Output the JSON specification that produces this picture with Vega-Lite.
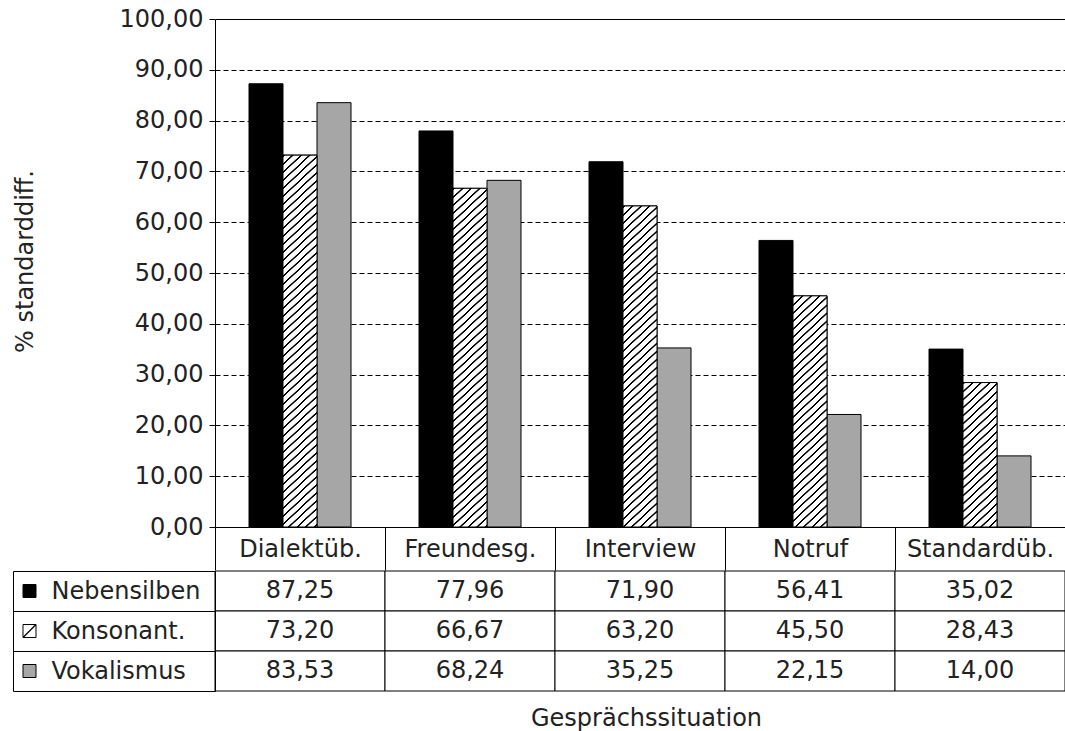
{
  "$schema": "https://vega.github.io/schema/vega-lite/v6.json",
  "padding": {"left": 12, "top": 7, "right": 0, "bottom": 2},
  "params": [
    {"name": "hatch", "value": [
      {"offset":0,"color":"#fff"},{"offset":0.001,"color":"#000"},{"offset":0.004,"color":"#000"},{"offset":0.005,"color":"#fff"},
      {"offset":0.016,"color":"#fff"},{"offset":0.017,"color":"#000"},{"offset":0.020,"color":"#000"},{"offset":0.021,"color":"#fff"},
      {"offset":0.032,"color":"#fff"},{"offset":0.033,"color":"#000"},{"offset":0.036,"color":"#000"},{"offset":0.037,"color":"#fff"},
      {"offset":0.048,"color":"#fff"},{"offset":0.049,"color":"#000"},{"offset":0.052,"color":"#000"},{"offset":0.053,"color":"#fff"},
      {"offset":0.064,"color":"#fff"},{"offset":0.065,"color":"#000"},{"offset":0.068,"color":"#000"},{"offset":0.069,"color":"#fff"},
      {"offset":0.080,"color":"#fff"},{"offset":0.081,"color":"#000"},{"offset":0.084,"color":"#000"},{"offset":0.085,"color":"#fff"},
      {"offset":0.096,"color":"#fff"},{"offset":0.097,"color":"#000"},{"offset":0.100,"color":"#000"},{"offset":0.101,"color":"#fff"},
      {"offset":0.112,"color":"#fff"},{"offset":0.113,"color":"#000"},{"offset":0.116,"color":"#000"},{"offset":0.117,"color":"#fff"},
      {"offset":0.128,"color":"#fff"},{"offset":0.129,"color":"#000"},{"offset":0.132,"color":"#000"},{"offset":0.133,"color":"#fff"},
      {"offset":0.144,"color":"#fff"},{"offset":0.145,"color":"#000"},{"offset":0.148,"color":"#000"},{"offset":0.149,"color":"#fff"},
      {"offset":0.160,"color":"#fff"},{"offset":0.161,"color":"#000"},{"offset":0.164,"color":"#000"},{"offset":0.165,"color":"#fff"},
      {"offset":0.176,"color":"#fff"},{"offset":0.177,"color":"#000"},{"offset":0.180,"color":"#000"},{"offset":0.181,"color":"#fff"},
      {"offset":0.192,"color":"#fff"},{"offset":0.193,"color":"#000"},{"offset":0.196,"color":"#000"},{"offset":0.197,"color":"#fff"},
      {"offset":0.208,"color":"#fff"},{"offset":0.209,"color":"#000"},{"offset":0.212,"color":"#000"},{"offset":0.213,"color":"#fff"},
      {"offset":0.224,"color":"#fff"},{"offset":0.225,"color":"#000"},{"offset":0.228,"color":"#000"},{"offset":0.229,"color":"#fff"},
      {"offset":0.240,"color":"#fff"},{"offset":0.241,"color":"#000"},{"offset":0.244,"color":"#000"},{"offset":0.245,"color":"#fff"},
      {"offset":0.256,"color":"#fff"},{"offset":0.257,"color":"#000"},{"offset":0.260,"color":"#000"},{"offset":0.261,"color":"#fff"},
      {"offset":0.272,"color":"#fff"},{"offset":0.273,"color":"#000"},{"offset":0.276,"color":"#000"},{"offset":0.277,"color":"#fff"},
      {"offset":0.288,"color":"#fff"},{"offset":0.289,"color":"#000"},{"offset":0.292,"color":"#000"},{"offset":0.293,"color":"#fff"},
      {"offset":0.304,"color":"#fff"},{"offset":0.305,"color":"#000"},{"offset":0.308,"color":"#000"},{"offset":0.309,"color":"#fff"},
      {"offset":0.320,"color":"#fff"},{"offset":0.321,"color":"#000"},{"offset":0.324,"color":"#000"},{"offset":0.325,"color":"#fff"},
      {"offset":0.336,"color":"#fff"},{"offset":0.337,"color":"#000"},{"offset":0.340,"color":"#000"},{"offset":0.341,"color":"#fff"},
      {"offset":0.352,"color":"#fff"},{"offset":0.353,"color":"#000"},{"offset":0.356,"color":"#000"},{"offset":0.357,"color":"#fff"},
      {"offset":0.368,"color":"#fff"},{"offset":0.369,"color":"#000"},{"offset":0.372,"color":"#000"},{"offset":0.373,"color":"#fff"},
      {"offset":0.384,"color":"#fff"},{"offset":0.385,"color":"#000"},{"offset":0.388,"color":"#000"},{"offset":0.389,"color":"#fff"},
      {"offset":0.400,"color":"#fff"},{"offset":0.401,"color":"#000"},{"offset":0.404,"color":"#000"},{"offset":0.405,"color":"#fff"},
      {"offset":0.416,"color":"#fff"},{"offset":0.417,"color":"#000"},{"offset":0.420,"color":"#000"},{"offset":0.421,"color":"#fff"},
      {"offset":0.432,"color":"#fff"},{"offset":0.433,"color":"#000"},{"offset":0.436,"color":"#000"},{"offset":0.437,"color":"#fff"},
      {"offset":0.448,"color":"#fff"},{"offset":0.449,"color":"#000"},{"offset":0.452,"color":"#000"},{"offset":0.453,"color":"#fff"},
      {"offset":0.464,"color":"#fff"},{"offset":0.465,"color":"#000"},{"offset":0.468,"color":"#000"},{"offset":0.469,"color":"#fff"},
      {"offset":0.480,"color":"#fff"},{"offset":0.481,"color":"#000"},{"offset":0.484,"color":"#000"},{"offset":0.485,"color":"#fff"},
      {"offset":0.496,"color":"#fff"},{"offset":0.497,"color":"#000"},{"offset":0.500,"color":"#000"},{"offset":0.501,"color":"#fff"},
      {"offset":0.512,"color":"#fff"},{"offset":0.513,"color":"#000"},{"offset":0.516,"color":"#000"},{"offset":0.517,"color":"#fff"},
      {"offset":0.528,"color":"#fff"},{"offset":0.529,"color":"#000"},{"offset":0.532,"color":"#000"},{"offset":0.533,"color":"#fff"},
      {"offset":0.544,"color":"#fff"},{"offset":0.545,"color":"#000"},{"offset":0.548,"color":"#000"},{"offset":0.549,"color":"#fff"},
      {"offset":0.560,"color":"#fff"},{"offset":0.561,"color":"#000"},{"offset":0.564,"color":"#000"},{"offset":0.565,"color":"#fff"},
      {"offset":0.576,"color":"#fff"},{"offset":0.577,"color":"#000"},{"offset":0.580,"color":"#000"},{"offset":0.581,"color":"#fff"},
      {"offset":0.592,"color":"#fff"},{"offset":0.593,"color":"#000"},{"offset":0.596,"color":"#000"},{"offset":0.597,"color":"#fff"},
      {"offset":0.608,"color":"#fff"},{"offset":0.609,"color":"#000"},{"offset":0.612,"color":"#000"},{"offset":0.613,"color":"#fff"},
      {"offset":0.624,"color":"#fff"},{"offset":0.625,"color":"#000"},{"offset":0.628,"color":"#000"},{"offset":0.629,"color":"#fff"},
      {"offset":0.640,"color":"#fff"},{"offset":0.641,"color":"#000"},{"offset":0.644,"color":"#000"},{"offset":0.645,"color":"#fff"},
      {"offset":0.656,"color":"#fff"},{"offset":0.657,"color":"#000"},{"offset":0.660,"color":"#000"},{"offset":0.661,"color":"#fff"},
      {"offset":0.672,"color":"#fff"},{"offset":0.673,"color":"#000"},{"offset":0.676,"color":"#000"},{"offset":0.677,"color":"#fff"},
      {"offset":0.688,"color":"#fff"},{"offset":0.689,"color":"#000"},{"offset":0.692,"color":"#000"},{"offset":0.693,"color":"#fff"},
      {"offset":0.704,"color":"#fff"},{"offset":0.705,"color":"#000"},{"offset":0.708,"color":"#000"},{"offset":0.709,"color":"#fff"},
      {"offset":0.720,"color":"#fff"},{"offset":0.721,"color":"#000"},{"offset":0.724,"color":"#000"},{"offset":0.725,"color":"#fff"},
      {"offset":0.736,"color":"#fff"},{"offset":0.737,"color":"#000"},{"offset":0.740,"color":"#000"},{"offset":0.741,"color":"#fff"},
      {"offset":0.752,"color":"#fff"},{"offset":0.753,"color":"#000"},{"offset":0.756,"color":"#000"},{"offset":0.757,"color":"#fff"},
      {"offset":0.768,"color":"#fff"},{"offset":0.769,"color":"#000"},{"offset":0.772,"color":"#000"},{"offset":0.773,"color":"#fff"},
      {"offset":0.784,"color":"#fff"},{"offset":0.785,"color":"#000"},{"offset":0.788,"color":"#000"},{"offset":0.789,"color":"#fff"},
      {"offset":0.800,"color":"#fff"},{"offset":0.801,"color":"#000"},{"offset":0.804,"color":"#000"},{"offset":0.805,"color":"#fff"},
      {"offset":0.816,"color":"#fff"},{"offset":0.817,"color":"#000"},{"offset":0.820,"color":"#000"},{"offset":0.821,"color":"#fff"}
    ]}
  ],
  "datasets": {
    "vals": [
      {"sit": "Dialektüb.", "series": "Nebensilben", "value": 87.25},
      {"sit": "Dialektüb.", "series": "Konsonant.", "value": 73.20},
      {"sit": "Dialektüb.", "series": "Vokalismus", "value": 83.53},
      {"sit": "Freundesg.", "series": "Nebensilben", "value": 77.96},
      {"sit": "Freundesg.", "series": "Konsonant.", "value": 66.67},
      {"sit": "Freundesg.", "series": "Vokalismus", "value": 68.24},
      {"sit": "Interview", "series": "Nebensilben", "value": 71.90},
      {"sit": "Interview", "series": "Konsonant.", "value": 63.20},
      {"sit": "Interview", "series": "Vokalismus", "value": 35.25},
      {"sit": "Notruf", "series": "Nebensilben", "value": 56.41},
      {"sit": "Notruf", "series": "Konsonant.", "value": 45.50},
      {"sit": "Notruf", "series": "Vokalismus", "value": 22.15},
      {"sit": "Standardüb.", "series": "Nebensilben", "value": 35.02},
      {"sit": "Standardüb.", "series": "Konsonant.", "value": 28.43},
      {"sit": "Standardüb.", "series": "Vokalismus", "value": 14.00}
    ],
    "serieslist": [
      {"series": "Nebensilben"},
      {"series": "Konsonant."},
      {"series": "Vokalismus"}
    ]
  },
  "spacing": -13,
  "vconcat": [
    {
      "width": 850,
      "height": 508,
      "data": {"name": "vals"},
      "encoding": {
        "x": {
          "field": "sit", "type": "nominal",
          "sort": ["Dialektüb.", "Freundesg.", "Interview", "Notruf", "Standardüb."],
          "scale": {"paddingInner": 0, "paddingOuter": 0},
          "axis": {
            "orient": "bottom", "title": null, "grid": false,
            "tickSize": 43, "tickBand": "extent", "tickColor": "#000", "tickWidth": 1,
            "domainColor": "#000", "domainWidth": 1,
            "labelAngle": 0, "labelFont": "DejaVu Sans", "labelFontSize": 24, "labelColor": "#222",
            "labelPadding": -21, "labelBaseline": "middle"
          }
        },
        "xOffset": {
          "field": "series", "type": "nominal",
          "sort": ["Nebensilben", "Konsonant.", "Vokalismus"],
          "scale": {"domain": ["Nebensilben", "Konsonant.", "Vokalismus"], "paddingInner": 0, "paddingOuter": 1.156}
        },
        "y": {
          "field": "value", "type": "quantitative", "stack": null,
          "scale": {"domain": [0, 100], "nice": false},
          "axis": {
            "values": [0, 10, 20, 30, 40, 50, 60, 70, 80, 90, 100],
            "format": ".2f",
            "labelFont": "DejaVu Sans", "labelFontSize": 24, "labelColor": "#222", "labelPadding": 6,
            "tickSize": 6, "tickColor": "#000", "domainColor": "#000",
            "grid": true, "gridColor": "#000", "gridWidth": 1,
            "gridDash": {"condition": {"test": "datum.value === 100", "value": []}, "value": [5, 3]},
            "title": "% standarddiff.",
            "titleFont": "DejaVu Sans", "titleFontSize": 24, "titleFontWeight": "normal", "titleColor": "#222",
            "titleX": -190, "titleY": 242, "titleBaseline": "middle", "titleAlign": "center", "titleAngle": 270
          }
        }
      },
      "layer": [
        {
          "mark": {"type": "bar", "stroke": "#000", "strokeWidth": 1},
          "encoding": {
            "fill": {
              "field": "series", "type": "nominal",
              "scale": {"domain": ["Nebensilben", "Konsonant.", "Vokalismus"], "range": ["#000000", "#ffffff", "#a6a6a6"]},
              "legend": null
            }
          }
        },
        {
          "transform": [{"filter": "datum.series === 'Konsonant.'"}],
          "mark": {
            "type": "bar", "stroke": "#000", "strokeWidth": 1,
            "fill": {"expr": "{gradient: 'linear', x1: 0, y1: 0, x2: 500 * 32 / (1024 + pow(datum.value * 5.08, 2)), y2: 500 * datum.value * 5.08 / (1024 + pow(datum.value * 5.08, 2)), stops: hatch}"}
          }
        }
      ]
    },
    {
      "width": 850,
      "height": 120,
      "resolve": {"axis": {"y": "independent"}},
      "layer": [
        {
          "data": {"name": "vals"},
          "mark": {"type": "rect", "fill": "#fff", "stroke": "#000", "strokeWidth": 1},
          "encoding": {
            "x": {
              "field": "sit", "type": "nominal",
              "sort": ["Dialektüb.", "Freundesg.", "Interview", "Notruf", "Standardüb."],
              "scale": {"paddingInner": 0, "paddingOuter": 0},
              "axis": {
                "orient": "bottom", "labels": false, "ticks": false, "domain": false, "grid": false,
                "title": "Gesprächssituation",
                "titleFont": "DejaVu Sans", "titleFontSize": 24, "titleFontWeight": "normal", "titleColor": "#222",
                "titlePadding": 15, "titleX": 431
              }
            },
            "y": {
              "field": "series", "type": "nominal",
              "sort": ["Nebensilben", "Konsonant.", "Vokalismus"],
              "scale": {"domain": ["Nebensilben", "Konsonant.", "Vokalismus"], "paddingInner": 0, "paddingOuter": 0},
              "axis": {
                "orient": "left", "title": null, "grid": false,
                "tickSize": 202, "tickBand": "extent", "tickColor": "#000", "tickWidth": 1,
                "domain": true, "domainColor": "#000",
                "labelAlign": "left", "labelBaseline": "middle", "labelPadding": -38,
                "labelFont": "DejaVu Sans", "labelFontSize": 24, "labelColor": "#222"
              }
            }
          }
        },
        {
          "data": {"name": "vals"},
          "mark": {"type": "text", "baseline": "middle", "font": "DejaVu Sans", "fontSize": 24, "color": "#222"},
          "encoding": {
            "x": {"field": "sit", "type": "nominal", "sort": ["Dialektüb.", "Freundesg.", "Interview", "Notruf", "Standardüb."]},
            "y": {"field": "series", "type": "nominal", "sort": ["Nebensilben", "Konsonant.", "Vokalismus"], "axis": null},
            "text": {"field": "value", "type": "quantitative", "format": ".2f"}
          }
        },
        {
          "data": {"name": "serieslist"},
          "mark": {"type": "point", "shape": "square", "filled": true, "size": 169, "stroke": "#000", "strokeWidth": 1, "opacity": 1, "xOffset": -185.5},
          "encoding": {
            "x": {"value": 0},
            "y": {
              "field": "series", "type": "nominal", "sort": ["Nebensilben", "Konsonant.", "Vokalismus"],
              "axis": {"orient": "left", "offset": 202, "domain": true, "domainColor": "#000", "labels": false, "ticks": false, "grid": false, "title": null}
            },
            "fill": {
              "field": "series", "type": "nominal",
              "scale": {"domain": ["Nebensilben", "Konsonant.", "Vokalismus"], "range": ["#000000", "#ffffff", "#a6a6a6"]},
              "legend": null
            }
          }
        },
        {
          "data": {"name": "serieslist"},
          "transform": [{"filter": "datum.series === 'Konsonant.'"}],
          "mark": {"type": "point", "shape": "M-1,1L1,-1", "filled": false, "size": 169, "stroke": "#000", "strokeWidth": 1.2, "opacity": 1, "xOffset": -185.5},
          "encoding": {
            "x": {"value": 0},
            "y": {"field": "series", "type": "nominal", "sort": ["Nebensilben", "Konsonant.", "Vokalismus"], "axis": null}
          }
        }
      ]
    }
  ],
  "config": {
    "view": {"stroke": null},
    "font": "DejaVu Sans",
    "locale": {"number": {"decimal": ",", "thousands": ".", "grouping": [3], "currency": ["", " €"]}}
  }
}
